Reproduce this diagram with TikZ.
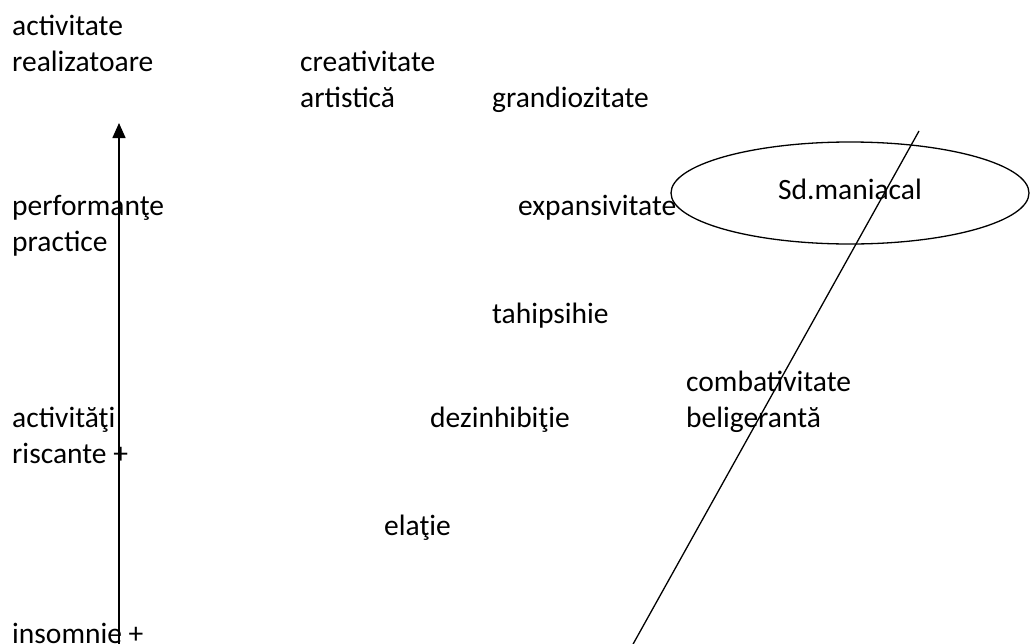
\documentclass[tikz,border=0pt]{standalone}
\usepackage{fontspec}
\setmainfont{Carlito}
\usetikzlibrary{arrows.meta,shapes.geometric}
\newcommand{\twolines}[2]{\vtop{\baselineskip=36pt\hbox{#1}\hbox{#2}}}
\tikzset{
  lbl/.style={anchor=base west, inner sep=0pt, font=\fontsize{29.5}{36}\selectfont},
  ln/.style={line width=1.5pt, black}
}
\begin{document}
\begin{tikzpicture}[x=1pt, y=-1pt]
\useasboundingbox (0,0) rectangle (1034,643);
% vertical arrow
\coordinate (abot) at (119,646);
\coordinate (atop) at (119,123);
\draw[ln, -{Triangle[length=15pt, width=13pt]}] (abot) -- (atop);
% ellipse
\node[draw, line width=1.3pt, ellipse, minimum width=358pt, minimum height=102pt, inner sep=0pt] (ell) at (850,193) {};
\node[lbl, anchor=base] (sd) at (850,199) {Sd.maniacal};
% diagonal line
\coordinate (dtop) at (919,131);
\coordinate (dbot) at (632,646);
\draw[ln, line width=1.3pt] (dbot) -- (dtop);
% labels
\node[lbl] (ar) at (12,35) {\twolines{activitate}{realizatoare}};
\node[lbl] (ca) at (300,71) {\twolines{creativitate}{artistică}};
\node[lbl] (gr) at (492,107) {grandiozitate};
\node[lbl] (pp) at (12,215) {\twolines{performanţe}{practice}};
\node[lbl] (ex) at (518,215) {expansivitate};
\node[lbl] (ta) at (492,323) {tahipsihie};
\node[lbl] (cb) at (686,391) {\twolines{combativitate}{beligerantă}};
\node[lbl] (rr) at (12,427) {\twolines{activităţi}{riscante +}};
\node[lbl] (de) at (430,427) {dezinhibiţie};
\node[lbl] (el) at (384,535) {elaţie};
\node[lbl] (in) at (12,643) {insomnie +};
\end{tikzpicture}
\end{document}
